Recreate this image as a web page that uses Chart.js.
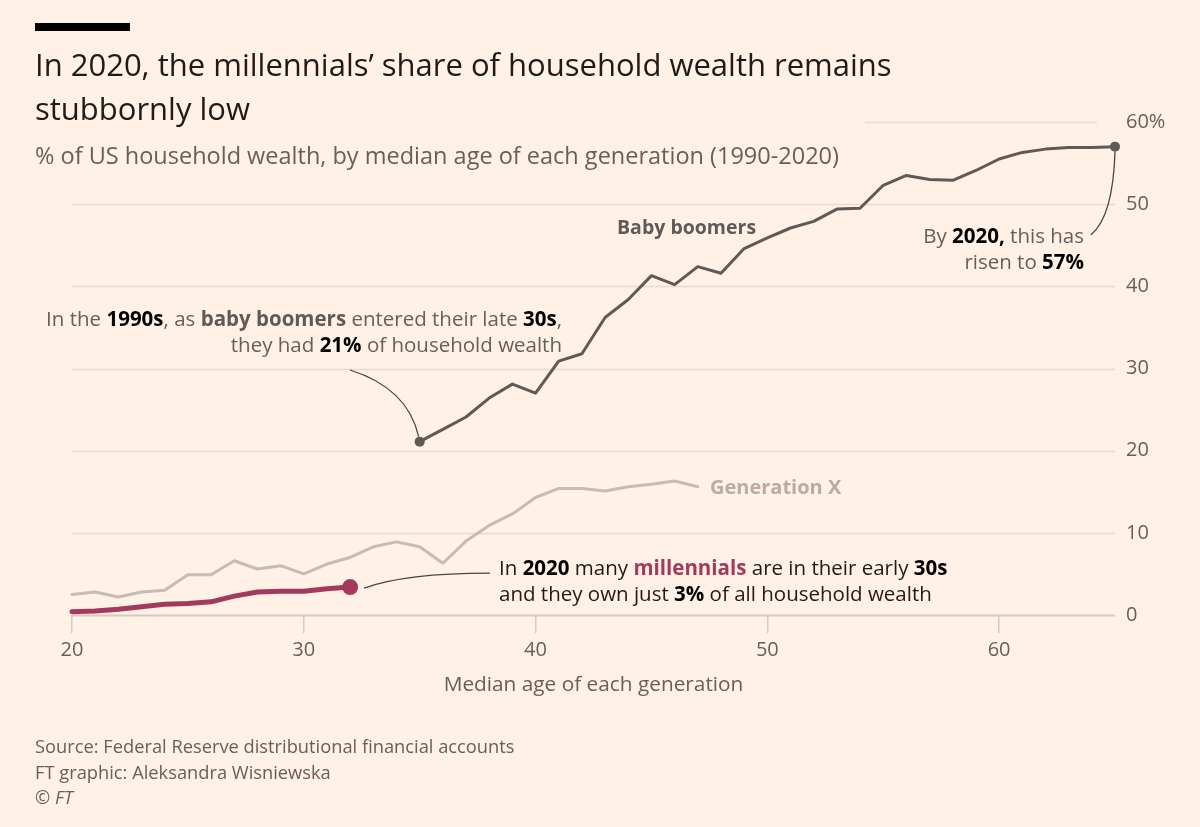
<!DOCTYPE html>
<html>
<head>
<meta charset="utf-8">
<script src="https://cdn.jsdelivr.net/npm/chart.js@4.4.1/dist/chart.umd.min.js"></script>
<style>
  html, body { margin: 0; padding: 0; background: #fff1e5; }
  #wrap { position: relative; width: 1200px; height: 827px; font-family: "Open Sans", Lato, sans-serif; color: #66605c; }
  #chartBox { position: absolute; left: 0; top: 0; width: 1200px; height: 827px; }
  .t { position: absolute; white-space: nowrap; }
  .bar { position: absolute; left: 35px; top: 23px; width: 95px; height: 8px; background: #000; }
  .title { left: 35px; top: 42px; font-size: 31px; line-height: 44px; color: #1e1b19; }
  .sub { left: 35px; top: 140px; font-size: 23.5px; line-height: 30px; }
  .lab { font-size: 19.5px; font-weight: 700; line-height: 24px; }
  .note { font-size: 20.5px; line-height: 26px; }
  .note b { color: #000; }
  .foot { left: 35px; top: 733px; font-size: 18.3px; line-height: 25.5px; }
</style>
</head>
<body>
<div id="wrap">
  <div id="chartBox"><canvas id="chart"></canvas></div>
  <div class="bar"></div>
  <div class="t title">In 2020, the millennials’ share of household wealth remains<br>stubbornly low</div>
  <div class="t sub">% of US household wealth, by median age of each generation (1990-2020)</div>

  <div class="t lab" style="left:617px; top:215px; color:#5f5a56;">Baby boomers</div>
  <div class="t lab" style="left:710px; top:475px; color:#b5ada6; font-size:20px;">Generation X</div>

  <div class="t note" style="right:638px; top:305px; text-align:right;">
    In the <b>1990s</b>, as <b style="color:#5f5a56">baby boomers</b> entered their late <b>30s</b>,<br>they had <b>21%</b> of household wealth
  </div>
  <div class="t note" style="right:116px; top:222px; text-align:right;">
    By <b>2020,</b> this has<br>risen to <b>57%</b>
  </div>
  <div class="t note" style="left:499px; top:554px; color:#1e1b19;">
    In <b>2020</b> many <b style="color:#a33a5e">millennials</b> are in their early <b>30s</b><br>and they own just <b>3%</b> of all household wealth
  </div>

  <div class="t foot">Source: Federal Reserve distributional financial accounts<br>FT graphic: Aleksandra Wisniewska<br>© <i>FT</i></div>
</div>

<script>
// median age of each generation
const boomerAges = [35, 36, 37, 38, 39, 40, 41, 42, 43, 44, 45, 46, 47, 48, 49, 50,
  51, 52, 53, 54, 55, 56, 57, 58, 59, 60, 61, 62, 63, 64, 65];
const genXAges = [20, 21, 22, 23, 24, 25, 26, 27, 28, 29, 30, 31, 32, 33, 34, 35,
  36, 37, 38, 39, 40, 41, 42, 43, 44, 45, 46, 47];
const millennialAges = [20, 21, 22, 23, 24, 25, 26, 27, 28, 29, 30, 31, 32];

// % of US household wealth
const boomers = [21.1, 22.6, 24.1, 26.4, 28.1, 27.0, 30.9, 31.8, 36.2, 38.4, 41.3, 40.2,
  42.4, 41.6, 44.6, 45.9, 47.1, 47.9, 49.4, 49.5, 52.3, 53.5, 53.0, 52.9, 54.1, 55.5,
  56.3, 56.7, 56.9, 56.9, 57.0];
const genX = [2.5, 2.8, 2.2, 2.8, 3.0, 4.9, 4.9, 6.6, 5.6, 6.0, 5.0, 6.2, 7.0, 8.3,
  8.9, 8.3, 6.3, 9.0, 10.9, 12.3, 14.3, 15.4, 15.4, 15.1, 15.6, 15.9, 16.3, 15.6];
const millennials = [0.4, 0.5, 0.7, 1.0, 1.3, 1.4, 1.6, 2.3, 2.8, 2.9, 2.9, 3.2, 3.4];

const xTicks = [20, 30, 40, 50, 60];
const yTicks = [0, 10, 20, 30, 40, 50, 60];

const grey = "#66605c";
const boomerColor = "#5f5a56";
const genXColor = "#c4bcb5";
const millColor = "#a33a5e";

Chart.defaults.font.family = "'Open Sans', Lato, sans-serif";
Chart.defaults.color = grey;

function points(ages, values) {
  return ages.map((a, i) => ({ x: a, y: values[i] }));
}

// gridlines, with the top one kept clear of the subtitle
const gridPlugin = {
  id: "grid",
  beforeDatasetsDraw(chart) {
    const { ctx, chartArea, scales: { y } } = chart;
    ctx.save();
    yTicks.forEach((v) => {
      const py = Math.round(y.getPixelForValue(v)) + 0.5;
      const x0 = v === 60 ? 865 : chartArea.left;
      const x1 = v === 60 ? chartArea.right - 18 : chartArea.right;
      ctx.strokeStyle = v === 0 ? "#d6cabf" : "#e8dcd1";
      ctx.lineWidth = v === 0 ? 2 : 1.5;
      ctx.beginPath();
      ctx.moveTo(x0, py);
      ctx.lineTo(x1, py);
      ctx.stroke();
    });
    ctx.restore();
  }
};

// annotation leader lines
const leaderPlugin = {
  id: "leaders",
  afterDatasetsDraw(chart) {
    const { ctx, scales: { x, y } } = chart;
    ctx.save();
    ctx.strokeStyle = "#4a4542";
    ctx.lineWidth = 1.3;

    const b0x = x.getPixelForValue(boomerAges[0]);
    const b0y = y.getPixelForValue(boomers[0]);
    ctx.beginPath();
    ctx.moveTo(350, 370);
    ctx.quadraticCurveTo(b0x - 12, 388, b0x - 1, b0y - 5);
    ctx.stroke();

    const last = boomers.length - 1;
    const b1x = x.getPixelForValue(boomerAges[last]);
    const b1y = y.getPixelForValue(boomers[last]);
    ctx.beginPath();
    ctx.moveTo(b1x, b1y + 5);
    ctx.quadraticCurveTo(b1x - 2, b1y + 70, b1x - 24, b1y + 88);
    ctx.stroke();

    const ml = millennials.length - 1;
    const mx = x.getPixelForValue(millennialAges[ml]);
    const my = y.getPixelForValue(millennials[ml]);
    ctx.beginPath();
    ctx.moveTo(mx + 14, my + 1);
    ctx.quadraticCurveTo(mx + 55, my - 14, 490, my - 14);
    ctx.stroke();
    ctx.restore();
  }
};

new Chart(document.getElementById("chart"), {
  type: "line",
  data: {
    datasets: [
      {
        label: "Millennials",
        data: points(millennialAges, millennials),
        borderColor: millColor,
        backgroundColor: millColor,
        borderWidth: 5,
        pointRadius: (c) => (c.dataIndex === millennials.length - 1 ? 8 : 0),
        pointBorderWidth: 0,
        clip: false
      },
      {
        label: "Generation X",
        data: points(genXAges, genX),
        borderColor: genXColor,
        borderWidth: 3,
        pointRadius: 0,
        clip: false
      },
      {
        label: "Baby boomers",
        data: points(boomerAges, boomers),
        borderColor: boomerColor,
        backgroundColor: boomerColor,
        borderWidth: 3,
        pointRadius: (c) => (c.dataIndex === 0 || c.dataIndex === boomers.length - 1 ? 5 : 0),
        pointBorderWidth: 0,
        clip: false
      }
    ]
  },
  options: {
    responsive: true,
    maintainAspectRatio: false,
    animation: false,
    layout: { padding: { left: 72, top: 122, right: 0, bottom: 120 } },
    elements: { line: { tension: 0, borderJoinStyle: "round", borderCapStyle: "round" } },
    plugins: { legend: { display: false }, tooltip: { enabled: false } },
    scales: {
      x: {
        type: "linear",
        min: 20,
        max: 65,
        afterBuildTicks: (s) => { s.ticks = xTicks.map((v) => ({ value: v })); },
        afterFit: (s) => { s.height = 92; },
        border: { display: false },
        grid: { drawOnChartArea: false, drawTicks: true, tickLength: 18, color: "#d6cabf", lineWidth: 1.5 },
        ticks: { font: { size: 20 }, color: grey, padding: 5, maxRotation: 0 },
        title: {
          display: true,
          text: "Median age of each generation",
          font: { size: 20.8 },
          color: grey,
          padding: { top: 0, bottom: 9 }
        }
      },
      y: {
        position: "right",
        min: 0,
        max: 60,
        afterBuildTicks: (s) => { s.ticks = yTicks.map((v) => ({ value: v })); },
        afterFit: (s) => { s.width = 85; },
        border: { display: false },
        grid: { display: false },
        ticks: {
          font: { size: 20 },
          color: grey,
          crossAlign: "near",
          padding: 3,
          callback: (v) => (v === 60 ? v + "%" : v)
        }
      }
    }
  },
  plugins: [gridPlugin, leaderPlugin]
});
</script>
</body>
</html>
